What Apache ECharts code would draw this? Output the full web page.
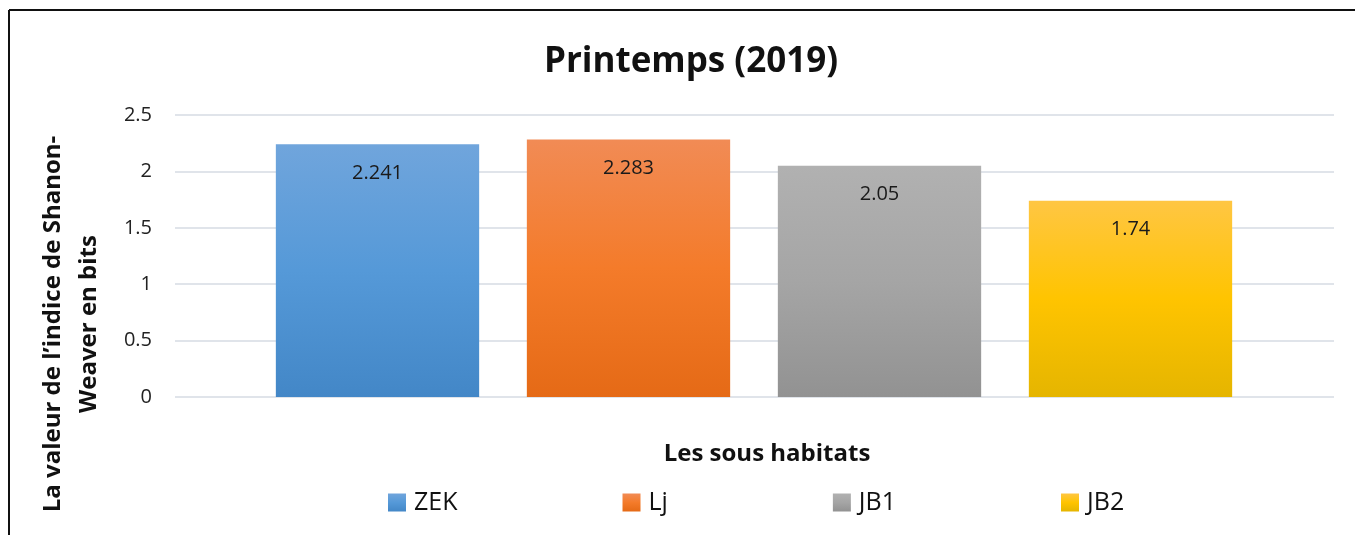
<!DOCTYPE html>
<html>
<head>
<meta charset="utf-8">
<script src="https://cdn.jsdelivr.net/npm/echarts@6/dist/echarts.min.js"></script>
<style>
  html, body { margin: 0; padding: 0; background: #fff; }
  #chart { width: 1355px; height: 535px; }
</style>
</head>
<body>
<div id="chart"></div>
<script>
// données
var habitats = ['ZEK', 'Lj', 'JB1', 'JB2'];
var valeurs = [2.241, 2.283, 2.05, 1.74];
var yTicks = [0, 0.5, 1, 1.5, 2, 2.5];

// dégradés façon Excel (haut, milieu, bas)
var couleurs = [
    ['#70a5dc', '#5599d8', '#4387c7'],
    ['#f18b55', '#f47b2a', '#e56a16'],
    ['#b1b1b1', '#a5a5a5', '#929292'],
    ['#ffc643', '#ffc400', '#e5b500']
];

function degrade(c) {
    return new echarts.graphic.LinearGradient(0, 0, 0, 1, [
        { offset: 0, color: c[0] },
        { offset: 0.5, color: c[1] },
        { offset: 1, color: c[2] }
    ]);
}

var myChart = echarts.init(document.getElementById('chart'));

var font = '"Open Sans", sans-serif';

var series = habitats.map(function (nom, i) {
    var data = habitats.map(function (h, j) { return j === i ? valeurs[i] : '-'; });
    return {
        name: nom,
        type: 'bar',
        stack: 'tout',
        xAxisIndex: 1,
        yAxisIndex: 1,
        barWidth: '81%',
        data: data,
        itemStyle: { color: degrade(couleurs[i]) },
        label: {
            show: true,
            position: 'insideTop',
            distance: 19,
            color: '#1a1a1a',
            fontFamily: font,
            fontSize: 20
        }
    };
});

var option = {
    backgroundColor: '#fff',
    animation: false,
    title: {
        text: 'Printemps (2019)',
        left: 686,
        textAlign: 'center',
        top: 40,
        textStyle: { fontFamily: font, fontWeight: 'bold', fontSize: 35, color: '#111' }
    },
    legend: {
        data: habitats,
        left: 383,
        top: 485,
        itemGap: 165,
        itemWidth: 18,
        itemHeight: 18,
        icon: 'rect',
        textStyle: { fontFamily: font, fontSize: 25, color: '#111', padding: [0, 0, 0, 3] }
    },
    // grille 0 : axe + lignes de fond ; grille 1 : barres (plus étroite, comme Excel)
    grid: [
        { left: 175, right: 21, top: 115, bottom: 138, outerBoundsMode: 'none' },
        { left: 252, right: 99, top: 115, bottom: 138, outerBoundsMode: 'none' }
    ],
    xAxis: [
        {
            type: 'category',
            gridIndex: 0,
            data: habitats,
            name: 'Les sous habitats',
            nameLocation: 'middle',
            nameGap: 45,
            nameTextStyle: { fontFamily: font, fontWeight: 'bold', fontSize: 24, color: '#111', padding: [0, 0, 0, 25] },
            axisLine: { show: false },
            axisTick: { show: false },
            axisLabel: { show: false }
        },
        {
            type: 'category',
            gridIndex: 1,
            data: habitats,
            axisLine: { show: false },
            axisTick: { show: false },
            axisLabel: { show: false }
        }
    ],
    yAxis: [
        {
            type: 'value',
            gridIndex: 0,
            min: yTicks[0],
            max: yTicks[yTicks.length - 1],
            interval: 0.5,
            name: 'La valeur de l\u2019indice de Shanon-\nWeaver en bits',
            nameLocation: 'middle',
            nameRotate: 90,
            nameGap: 68,
            nameTextStyle: {
                fontFamily: font, fontWeight: 'bold', fontSize: 24, color: '#111',
                lineHeight: 36, padding: [0, 136, 0, 0]
            },
            axisLine: { show: false },
            axisTick: { show: false },
            axisLabel: { margin: 23, fontFamily: font, fontSize: 20, color: '#222' },
            splitLine: { lineStyle: { color: '#e0e4ea', width: 2 } }
        },
        {
            type: 'value',
            gridIndex: 1,
            min: yTicks[0],
            max: yTicks[yTicks.length - 1],
            interval: 0.5,
            axisLine: { show: false },
            axisTick: { show: false },
            axisLabel: { show: false },
            splitLine: { show: false }
        }
    ],
    graphic: [
        { type: 'line', shape: { x1: 9, y1: 10, x2: 1355, y2: 10 }, style: { stroke: '#111', lineWidth: 2 } },
        { type: 'line', shape: { x1: 9, y1: 10, x2: 9, y2: 535 }, style: { stroke: '#111', lineWidth: 2 } }
    ],
    series: series
};

myChart.setOption(option);
</script>
</body>
</html>
